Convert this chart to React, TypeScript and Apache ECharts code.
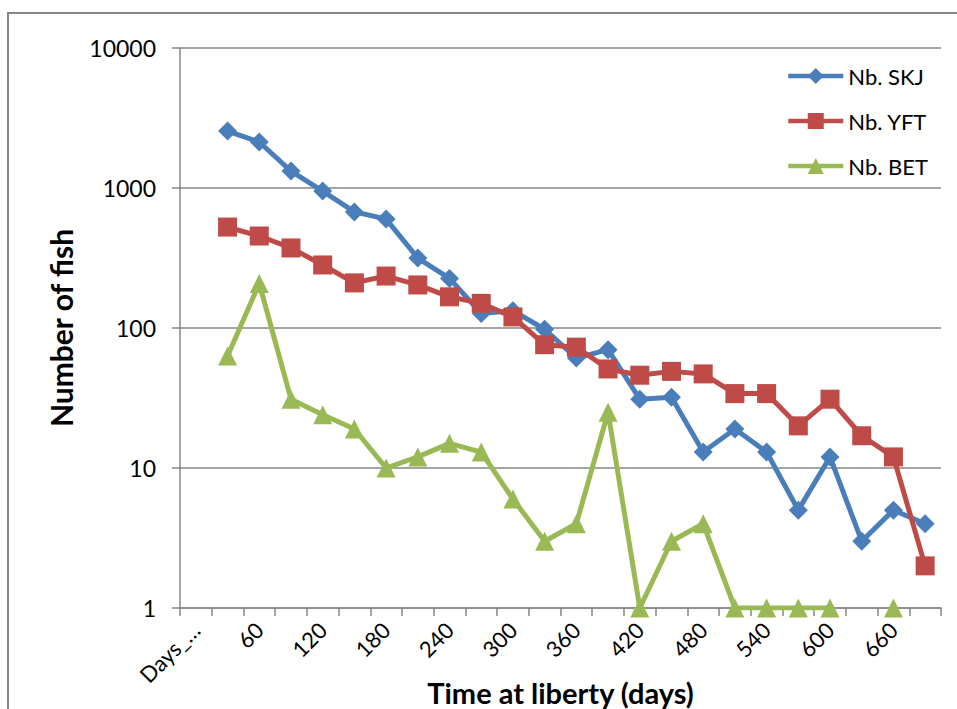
import React, { useEffect, useRef } from "react";
import * as echarts from "echarts";

const categories = [
  "Days_at_liberty", "30", "60", "90", "120", "150", "180", "210", "240", "270", "300", "330",
  "360", "390", "420", "450", "480", "510", "540", "570", "600", "630", "660", "690",
];
const skj = [null, 2550, 2130, 1320, 950, 675, 600, 316, 226, 127, 133, 98, 61, 70, 31, 32, 13, 19, 13, 5, 12, 3, 5, 4];
const yft = [null, 526, 454, 373, 282, 210, 235, 203, 167, 150, 120, 76, 73, 51, 46, 49, 47, 34, 34, 20, 31, 17, 12, 2];
const bet = [null, 63, 208, 31, 24, 19, 10, 12, 15, 13, 6, 3, 4, 25, 1, 3, 4, 1, 1, 1, 1, null, 1, null];
const seriesNames = ["Nb. SKJ", "Nb. YFT", "Nb. BET"];
const yTicks = [1, 10, 100, 1000, 10000];

export default function App() {
  const ref = useRef<HTMLDivElement>(null);
  useEffect(() => {
    if (!ref.current) return;
    const chart = echarts.init(ref.current, undefined, { renderer: "svg" });
    const font = "Lato, 'Noto Sans', sans-serif";
    const gray = "#868686";
    const mk = (name: string, data: (number | null)[], color: string, symbol: string) => ({
      name,
      type: "line",
      data,
      symbol,
      symbolSize: 19,
      showSymbol: true,
      connectNulls: false,
      lineStyle: { color, width: 5 },
      itemStyle: { color },
      z: 3,
    });
    chart.setOption({
      animation: false,
      backgroundColor: "#ffffff",
      graphic: [
        {
          type: "rect",
          shape: { x: 8, y: 13, width: 1000, height: 1000 },
          style: { fill: "none", stroke: gray, lineWidth: 2 },
          silent: true,
          z: -1,
        },
      ],
      grid: { left: 180, right: 16, top: 48, bottom: 101, containLabel: false, outerBoundsMode: "none" },
      legend: {
        orient: "vertical",
        left: 786,
        top: 65,
        padding: 0,
        itemWidth: 55,
        itemHeight: 20,
        itemGap: 23,
        data: seriesNames,
        lineStyle: { width: 4.5 },
        textStyle: { fontFamily: font, fontSize: 22, color: "#000", lineHeight: 20 },
      },
      xAxis: {
        type: "category",
        data: categories,
        boundaryGap: true,
        name: "Time at liberty (days)",
        nameLocation: "middle",
        nameGap: 70,
        nameMoveOverlap: false,
        nameTextStyle: { fontFamily: font, fontSize: 29, fontWeight: "bold", color: "#000" },
        axisLine: { lineStyle: { color: gray, width: 1.5 } },
        axisTick: { show: true, interval: 0, length: 8, lineStyle: { color: gray, width: 1.5 } },
        axisLabel: {
          interval: 1,
          rotate: 45,
          margin: 18,
          fontFamily: font,
          fontSize: 22,
          color: "#000",
          formatter: (v: string) => (v.length > 6 ? v.slice(0, 5) + "…" : v),
        },
        splitLine: { show: false },
      },
      yAxis: {
        type: "log",
        logBase: 10,
        min: yTicks[0],
        max: yTicks[yTicks.length - 1],
        name: "Number of fish",
        nameLocation: "middle",
        nameGap: 104,
        nameMoveOverlap: false,
        nameTextStyle: { fontFamily: font, fontSize: 30, fontWeight: "bold", color: "#000" },
        axisLine: { show: true, lineStyle: { color: gray, width: 1.5 } },
        axisTick: { show: true, length: 8, lineStyle: { color: gray, width: 1.5 } },
        axisLabel: {
          margin: 24,
          fontFamily: font,
          fontSize: 23,
          color: "#000",
          formatter: (v: number) => String(Math.round(v)),
        },
        splitLine: { show: true, lineStyle: { color: gray, width: 1.5 } },
        minorTick: { show: false },
      },
      series: [
        mk(seriesNames[0], skj, "#4A7EBB", "diamond"),
        mk(seriesNames[1], yft, "#BE4B48", "rect"),
        mk(seriesNames[2], bet, "#98B954", "triangle"),
      ],
    });
    return () => chart.dispose();
  }, []);
  return (
    <div
      ref={ref}
      style={{ position: "absolute", left: 0, top: 0, width: 957, height: 709 }}
    />
  );
}
